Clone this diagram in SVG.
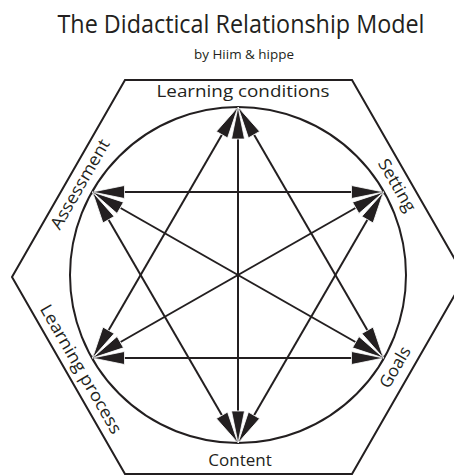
<svg xmlns="http://www.w3.org/2000/svg" width="454" height="475" viewBox="0 0 454 475">
<style>
.ln{stroke:#231f20;stroke-width:2;fill:none}
.con{stroke:#231f20;stroke-width:2;fill:none;marker-start:url(#ah);marker-end:url(#ah)}
.lbl{font-family:"Open Sans","Noto Sans",sans-serif;font-size:17px;fill:#231f20}
</style>
<defs>
<marker id="ah" markerUnits="userSpaceOnUse" viewBox="0 0 34 15" markerWidth="34" markerHeight="15" refX="33" refY="7.5" orient="auto-start-reverse">
<path d="M1,1 L33,7.5 L1,14 Z" fill="#231f20" stroke="#fff" stroke-width="0.8" stroke-linejoin="miter"/>
</marker>
</defs>
<rect width="454" height="475" fill="#fff"/>
<g id="title">
<text x="241" y="33" text-anchor="middle" font-family="'Open Sans','Noto Sans',sans-serif" font-size="25" fill="#231f20" textLength="367" lengthAdjust="spacingAndGlyphs">The Didactical Relationship Model</text>
<text x="244" y="59" text-anchor="middle" font-family="'Open Sans','Noto Sans',sans-serif" font-size="12.5" fill="#231f20" textLength="100" lengthAdjust="spacingAndGlyphs">by Hiim &amp; hippe</text>
</g>
<g id="frame">
<polygon class="ln" points="125,80 352,80 465,277 352,474 125,474 12,277"/>
<circle class="ln" cx="238" cy="275" r="168"/>
</g>
<g id="connectors">
<line class="con" x1="238" y1="107" x2="238" y2="443"/>
<line class="con" x1="92.5" y1="192" x2="383.5" y2="192"/>
<line class="con" x1="92.5" y1="358" x2="383.5" y2="358"/>
<line class="con" x1="92.5" y1="192" x2="383.5" y2="358"/>
<line class="con" x1="383.5" y1="192" x2="92.5" y2="358"/>
<line class="con" x1="238" y1="107" x2="92.5" y2="358"/>
<line class="con" x1="238" y1="107" x2="383.5" y2="358"/>
<line class="con" x1="92.5" y1="192" x2="238" y2="443"/>
<line class="con" x1="383.5" y1="192" x2="238" y2="443"/>
</g>
<g id="learning-conditions"><text class="lbl" x="243" y="97" text-anchor="middle" textLength="173" lengthAdjust="spacingAndGlyphs">Learning conditions</text></g>
<g id="content"><text class="lbl" x="240" y="466" text-anchor="middle">Content</text></g>
<g id="assessment"><text class="lbl" transform="translate(85,187) rotate(-60)" text-anchor="middle" textLength="101" lengthAdjust="spacingAndGlyphs">Assessment</text></g>
<g id="setting"><text class="lbl" transform="translate(392,188) rotate(60)" text-anchor="middle" textLength="58" lengthAdjust="spacingAndGlyphs">Setting</text></g>
<g id="goals"><text class="lbl" transform="translate(400,370) rotate(-60)" text-anchor="middle" textLength="45" lengthAdjust="spacingAndGlyphs">Goals</text></g>
<g id="learning-process"><text class="lbl" transform="translate(76,372) rotate(60)" text-anchor="middle" textLength="146" lengthAdjust="spacingAndGlyphs">Learning process</text></g>
</svg>
